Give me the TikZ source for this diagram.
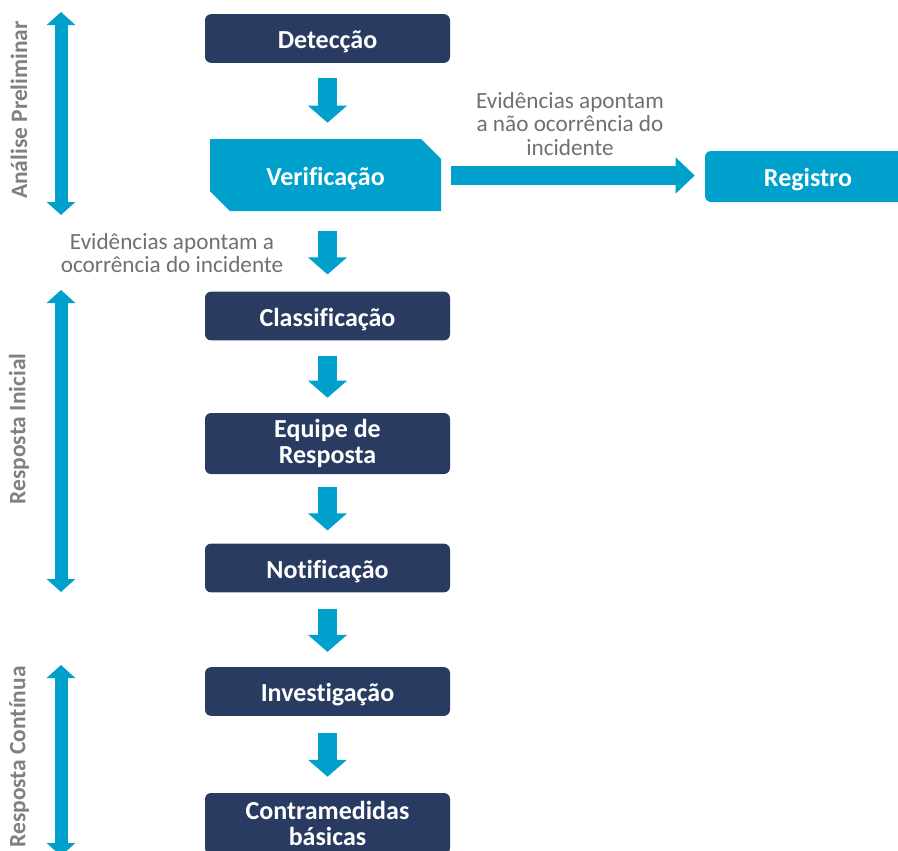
\documentclass[tikz,border=0pt]{standalone}
\usepackage{fontspec}
\setmainfont{Carlito}[Ligatures=CommonOff]
\usetikzlibrary{shapes.misc,arrows.meta,positioning,calc}

\definecolor{navy}{RGB}{42,59,97}
\definecolor{cyanblue}{RGB}{0,160,204}
\definecolor{captiongray}{RGB}{112,112,112}
\definecolor{phasegray}{RGB}{128,128,128}

\tikzset{
  boxfont/.style={font=\fontsize{19.5}{19.5}\selectfont\bfseries},
  oneline/.style={text height=15.3pt, text depth=0pt},
  stepbox/.style={fill=navy, rounded corners=4.5pt, text=white, align=center,
    boxfont, inner sep=0pt, minimum width=183.75pt, minimum height=36.5pt},
  checkbox/.style={chamfered rectangle, chamfered rectangle corners={north east,south west},
    chamfered rectangle xsep=7.5pt, chamfered rectangle ysep=7.5pt,
    fill=cyanblue, text=white, boxfont, oneline, inner sep=0pt,
    minimum width=173.25pt, minimum height=54pt},
  endbox/.style={fill=cyanblue, rounded corners=4.5pt, text=white,
    boxfont, oneline, inner sep=0pt, minimum width=154.5pt, minimum height=38.25pt},
  caption/.style={text=captiongray, align=center, font=\fontsize{17.4}{17.6}\selectfont},
  phase/.style={text=phasegray, rotate=90, font=\fontsize{17.6}{18}\selectfont\bfseries},
  downarrow/.style={draw=cyanblue, line width=14.25pt, -{Triangle[length=12.75pt, width=28.5pt]}},
  rightarrow/.style={draw=cyanblue, line width=14.25pt, -{Triangle[length=14.25pt, width=26.25pt]}},
  span/.style={draw=cyanblue, line width=9.75pt,
    {Triangle[length=9.75pt, width=21pt]}-{Triangle[length=9.75pt, width=21pt]}},
}

\begin{document}
\begin{tikzpicture}[x=0.75pt, y=-0.75pt]
  \useasboundingbox (0,0) rectangle (898,850);

  % main flow
  \node[stepbox, oneline] (detect) at (327.5,38.5) {Detecção};
  \node[checkbox] (verif) at (325.5,175) {Verificação};
  \node[endbox] (registro) at (808,176.5) {Registro};
  \node[stepbox, oneline] (classif) at (327.5,316) {Classificação};
  \node[stepbox, minimum height=45.75pt] (equipe) at (327.5,443.5) {Equipe de\\Resposta};
  \node[stepbox, oneline] (notif) at (327.5,568) {Notificação};
  \node[stepbox, oneline] (invest) at (327.5,691.5) {Investigação};
  \node[stepbox, minimum height=45.75pt] (contra) at (327.5,823.5) {Contramedidas\\básicas};

  \foreach \a/\b/\s/\e in {detect/verif/11.25/12, verif/classif/15/12.75,
      classif/equipe/11.25/11.25, equipe/notif/9.75/9.75,
      notif/invest/12/11.25, invest/contra/12.75/12}
    \draw[downarrow, shorten <=\s pt, shorten >=\e pt]
      (\a.south -| 327.5,0) -- (\b.north -| 327.5,0);

  \draw[rightarrow, shorten <=7.5pt, shorten >=7.5pt]
    (verif.east |- 0,175.5) -- (registro.west |- 0,175.5);

  % captions
  \node[caption] (nao) at (570,124) {Evidências apontam\\a não ocorrência do\\incidente};
  \node[caption] (sim) at (172,253) {Evidências apontam a\\ocorrência do incidente};

  % phases
  \coordinate (ap top) at (61,12);
  \coordinate (ap bot) at (61,215);
  \coordinate (ri top) at (61,290);
  \coordinate (ri bot) at (61,592);
  \coordinate (rc top) at (61,665);
  \coordinate (rc bot) at (61,856);
  \draw[span] (ap top) -- (ap bot);
  \draw[span] (ri top) -- (ri bot);
  \draw[span] (rc top) -- (rc bot);
  \node[phase] (analise) at (19,110) {Análise Preliminar};
  \node[phase] (inicial) at (19,429) {Resposta Inicial};
  \node[phase] (continua) at (19,757) {Resposta Contínua};
\end{tikzpicture}
\end{document}
